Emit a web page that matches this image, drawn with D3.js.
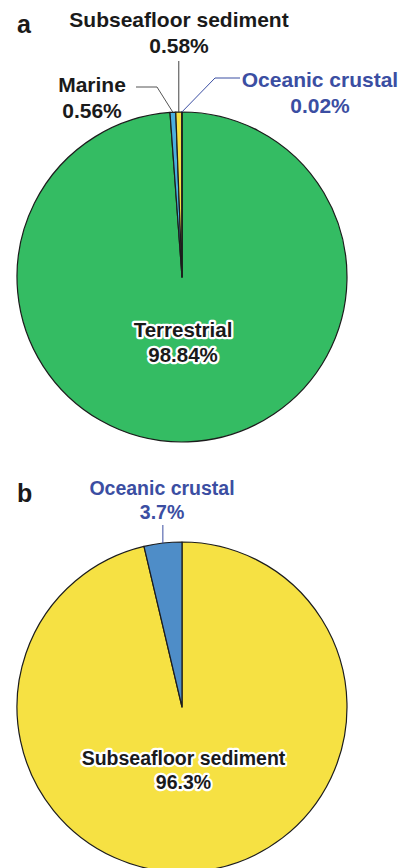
<!DOCTYPE html>
<html>
<head>
<meta charset="utf-8">
<script src="https://cdn.jsdelivr.net/npm/d3@7"></script>
<style>
  body { margin: 0; background: #fff; }
  text { font-family: "Liberation Sans", Arial, sans-serif; font-weight: bold; }
</style>
</head>
<body>
<div id="chart"></div>
<script>
// panel a: share of cells by habitat, clockwise from 12 o'clock
var habitatsA = ['Terrestrial', 'Marine', 'Subseafloor sediment', 'Oceanic crustal'];
var valuesA = [98.84, 0.56, 0.58, 0.02];
var labelsA = ['98.84%', '0.56%', '0.58%', '0.02%'];
var colorsA = ['#34bc63', '#4aafe0', '#f6e143', '#4d8cc8'];

// panel b: subseafloor only
var habitatsB = ['Subseafloor sediment', 'Oceanic crustal'];
var valuesB = [96.3, 3.7];
var labelsB = ['96.3%', '3.7%'];
var colorsB = ['#f6e143', '#4e8dc8'];

var width = 404, height = 868;
var radius = 165;

var svg = d3.select('#chart').append('svg')
    .attr('width', width)
    .attr('height', height);

var pie = d3.pie().sort(null).value(d => d);
var arc = d3.arc().innerRadius(0).outerRadius(radius);

// point on the rim at the middle of a slice
function rimPoint(d) {
    var a = (d.startAngle + d.endAngle) / 2;
    return [radius * Math.sin(a), -radius * Math.cos(a)];
}

function drawPie(g, values, colors) {
    var arcs = pie(values);
    g.selectAll('path')
        .data(arcs)
        .enter().append('path')
        .attr('d', arc)
        .style('fill', (d, i) => colors[i])
        .style('stroke', '#1c1c1c')
        .style('stroke-width', 1.2)
        .style('stroke-linejoin', 'round');
    return arcs;
}

function addLabel(g, x, y, lines, size, color, halo) {
    var t = g.append('text')
        .attr('x', x)
        .attr('y', y)
        .attr('text-anchor', 'middle')
        .style('font-size', size + 'px')
        .style('fill', color);
    if (halo) {
        t.style('stroke', '#fff')
            .style('stroke-width', 4.5)
            .style('stroke-linejoin', 'round')
            .style('paint-order', 'stroke');
    }
    lines.forEach((s, i) => {
        t.append('tspan')
            .attr('x', x)
            .attr('dy', i == 0 ? 0 : size * 1.22)
            .text(s);
    });
}

var blueText = '#3b4ea2';
var darkText = '#1a1a1a';

// ---- panel a
var gA = svg.append('g').attr('transform', 'translate(182, 277)');
var arcsA = drawPie(gA, valuesA, colorsA);

svg.append('text').attr('x', 17).attr('y', 33).style('font-size', '25px').style('fill', darkText).text('a');

// Subseafloor leader: straight up
var pS = rimPoint(arcsA[2]);
gA.append('path')
    .attr('d', d3.line()([[pS[0], -216], pS]))
    .style('fill', 'none').style('stroke', '#444').style('stroke-width', 1);
addLabel(gA, -3, -250, [habitatsA[2], labelsA[2]], 21, darkText, false);

// Marine leader: elbow to the left
var pM = rimPoint(arcsA[1]);
gA.append('path')
    .attr('d', d3.line()([[-46, -190], [-25, -190], pM]))
    .style('fill', 'none').style('stroke', '#555').style('stroke-width', 1);
addLabel(gA, -90, -185, [habitatsA[1], labelsA[1]], 21, darkText, false);

// Oceanic crustal leader: elbow to the right
var pO = rimPoint(arcsA[3]);
gA.append('path')
    .attr('d', d3.line()([[58, -199], [33, -199], pO]))
    .style('fill', 'none').style('stroke', blueText).style('stroke-width', 1);
addLabel(gA, 138, -190, [habitatsA[3], labelsA[3]], 21, blueText, false);

addLabel(gA, 1, 60, [habitatsA[0], labelsA[0]], 20.5, darkText, true);

// ---- panel b
var gB = svg.append('g').attr('transform', 'translate(182, 707)');
var arcsB = drawPie(gB, valuesB, colorsB);

svg.append('text').attr('x', 17).attr('y', 502).style('font-size', '25px').style('fill', darkText).text('b');

var pB = rimPoint(arcsB[1]);
gB.append('path')
    .attr('d', d3.line()([[pB[0], -182], pB]))
    .style('fill', 'none').style('stroke', blueText).style('stroke-width', 1);
addLabel(gB, -20, -212, [habitatsB[1], labelsB[1]], 19.5, blueText, false);

addLabel(gB, 1.5, 58, [habitatsB[0], labelsB[0]], 19.5, darkText, true);
</script>
</body>
</html>
